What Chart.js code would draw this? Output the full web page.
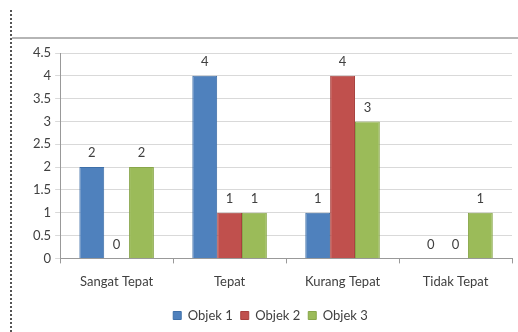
<!DOCTYPE html>
<html><head><meta charset="utf-8">
<script src="https://cdn.jsdelivr.net/npm/chart.js@4/dist/chart.umd.min.js"></script>
<style>
html,body{margin:0;padding:0;background:#fff;}
#wrap{position:relative;width:518px;height:332px;overflow:hidden;}
#dot{position:absolute;left:10px;top:10px;width:0;height:322px;border-left:2px dotted #555;}
#hline{position:absolute;left:12px;top:37px;width:506px;height:0;border-top:2px solid #b5b5b5;}
#cv{position:absolute;left:12px;top:40px;}
</style></head>
<body><div id="wrap"><div id="dot"></div><div id="hline"></div><canvas id="cv" width="506" height="292"></canvas></div>
<script>
const categories = ["Sangat Tepat", "Tepat", "Kurang Tepat", "Tidak Tepat"];
const objek1 = [2, 4, 1, 0];
const objek2 = [0, 1, 4, 0];
const objek3 = [2, 1, 3, 1];
const seriesNames = ["Objek 1", "Objek 2", "Objek 3"];
const yTicks = [0, 0.5, 1, 1.5, 2, 2.5, 3, 3.5, 4, 4.5];

const FONT = "Lato, 'Open Sans', sans-serif";
const labelPlugin = {
  id: 'valueLabels',
  afterDatasetsDraw(chart) {
    const ctx = chart.ctx;
    ctx.save();
    ctx.font = "13px " + FONT;
    ctx.fillStyle = "#404040";
    ctx.textAlign = "center";
    ctx.textBaseline = "middle";
    chart.data.datasets.forEach((ds, i) => {
      chart.getDatasetMeta(i).data.forEach((bar, j) => {
        ctx.fillText(String(ds.data[j]), bar.x, bar.y - 14);
      });
    });
    ctx.restore();
  }
};

new Chart(document.getElementById('cv'), {
  type: 'bar',
  data: {
    labels: categories,
    datasets: [
      {label: seriesNames[0], data: objek1, backgroundColor: '#4F81BD', borderColor: '#3E6FA8', borderWidth: 1},
      {label: seriesNames[1], data: objek2, backgroundColor: '#C0504D', borderColor: '#A8403D', borderWidth: 1},
      {label: seriesNames[2], data: objek3, backgroundColor: '#9BBB59', borderColor: '#88A64A', borderWidth: 1}
    ]
  },
  options: {
    responsive: false,
    animation: false,
    devicePixelRatio: 1,
    layout: {padding: {top: 13, right: 6, left: 17, bottom: 0}},
    datasets: {bar: {categoryPercentage: 0.66, barPercentage: 1.0}},
    plugins: {
      legend: {
        position: 'bottom',
        labels: {boxWidth: 8, boxHeight: 8, font: {family: FONT, size: 13}, color: '#404040', padding: 8}
      },
      tooltip: {enabled: false}
    },
    scales: {
      x: {
        grid: {display: true, drawOnChartArea: false, drawTicks: true, tickLength: 5, color: '#999', offset: true},
        border: {color: '#999'},
        ticks: {font: {family: FONT, size: 13}, color: '#404040', padding: 11}
      },
      y: {
        min: 0, max: 4.5,
        afterBuildTicks(axis) { axis.ticks = yTicks.map(v => ({value: v})); },
        grid: {color: '#d9d9d9', tickLength: 5},
        border: {color: '#999'},
        ticks: {font: {family: FONT, size: 13}, color: '#404040', padding: 4, callback: v => String(v)}
      }
    }
  },
  plugins: [labelPlugin]
});
</script>
</body></html>
